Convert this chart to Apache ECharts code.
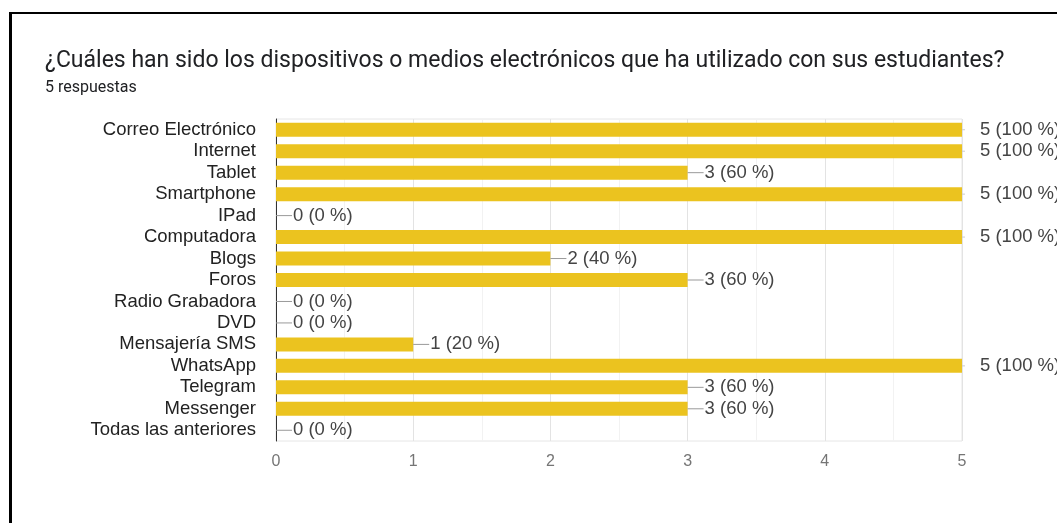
<!DOCTYPE html>
<html>
<head>
<meta charset="utf-8">
<script src="https://cdn.jsdelivr.net/npm/echarts@6/dist/echarts.min.js"></script>
<style>
  html, body { margin: 0; padding: 0; background: #fff; }
  #chart { width: 1057px; height: 523px; }
</style>
</head>
<body>
<div id="chart"></div>
<script>
const categories = [
  "Correo Electrónico", "Internet", "Tablet", "Smartphone", "IPad",
  "Computadora", "Blogs", "Foros", "Radio Grabadora", "DVD",
  "Mensajería SMS", "WhatsApp", "Telegram", "Messenger", "Todas las anteriores"
];
const counts = [5, 5, 3, 5, 0, 5, 2, 3, 0, 0, 1, 5, 3, 3, 0];
const percents = [100, 100, 60, 100, 0, 100, 40, 60, 0, 0, 20, 100, 60, 60, 0];
const totalResponses = 5;
const xTicks = [0, 1, 2, 3, 4, 5];

const chart = echarts.init(document.getElementById("chart"));

function labelFor(p) {
  const i = p.dataIndex;
  const txt = counts[i] + " (" + percents[i] + " %)";
  if (counts[i] >= totalResponses) {
    return "{tick|}{gap|}{v|" + txt + "}";
  }
  return "{line|}{v|" + txt + "}";
}

chart.setOption({
  animation: false,
  title: [
    {
      text: "¿Cuáles han sido los dispositivos o medios electrónicos que ha utilizado con sus estudiantes?",
      left: 40,
      top: 45,
      textStyle: { fontFamily: "Roboto", fontSize: 23, fontWeight: "normal", color: "#202124" }
    },
    {
      text: totalResponses + " respuestas",
      left: 40,
      top: 75,
      textStyle: { fontFamily: "Roboto", fontSize: 16, fontWeight: "normal", color: "#202124" }
    }
  ],
  graphic: [
    { type: "rect", shape: { x: 9, y: 12, width: 3, height: 511 }, style: { fill: "#000" } },
    { type: "rect", shape: { x: 9, y: 12, width: 1048, height: 2 }, style: { fill: "#000" } }
  ],
  grid: {
    left: 276,
    right: 95,
    top: 119,
    bottom: 82,
    show: true,
    borderColor: "#e6e6e6",
    borderWidth: 1
  },
  xAxis: {
    type: "value",
    min: xTicks[0],
    max: xTicks[xTicks.length - 1],
    interval: 1,
    axisLine: { show: false },
    axisTick: { show: false },
    axisLabel: {
      margin: 13,
      fontFamily: "Liberation Sans",
      fontSize: 16,
      color: "#757575"
    },
    splitLine: { lineStyle: { color: "#e3e3e3", width: 1 } },
    minorTick: { show: false, splitNumber: 2 },
    minorSplitLine: { show: true, lineStyle: { color: "#f2f2f2", width: 1 } }
  },
  yAxis: {
    type: "category",
    data: categories,
    inverse: true,
    axisLine: { show: true, lineStyle: { color: "#333", width: 1 } },
    axisTick: { show: false },
    axisLabel: {
      interval: 0,
      margin: 20,
      fontFamily: "Liberation Sans",
      fontSize: 18.5,
      color: "#222"
    }
  },
  series: [
    {
      type: "bar",
      data: counts,
      barWidth: 14,
      itemStyle: { color: "#ebc31f" },
      label: {
        show: true,
        position: "right",
        distance: 0,
        formatter: labelFor,
        rich: {
          line: { width: 16, height: 1, backgroundColor: "#999" },
          tick: { width: 3, height: 1, backgroundColor: "#ccc" },
          gap: { width: 14, height: 1 },
          v: { fontFamily: "Liberation Sans", fontSize: 18.5, color: "#444", padding: [0, 0, 0, 1] }
        }
      }
    }
  ]
});
</script>
</body>
</html>
